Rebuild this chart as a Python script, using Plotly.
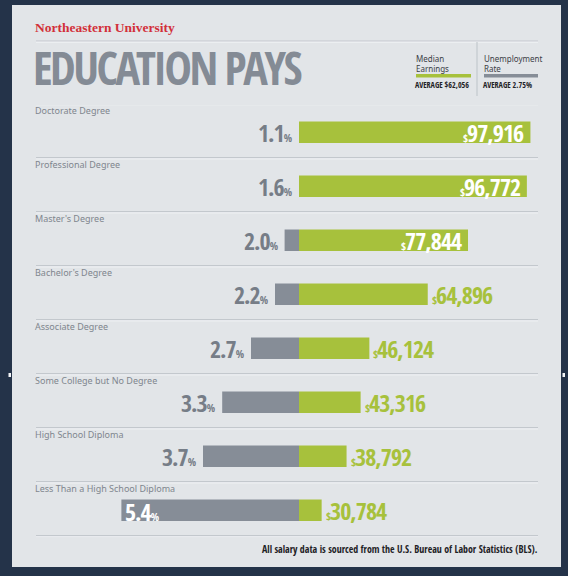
import plotly.graph_objects as go

# ---------------- data ----------------
categories = [
    "Doctorate Degree",
    "Professional Degree",
    "Master's Degree",
    "Bachelor's Degree",
    "Associate Degree",
    "Some College but No Degree",
    "High School Diploma",
    "Less Than a High School Diploma",
]
median_earnings = [97916, 96772, 77844, 64896, 46124, 43316, 38792, 30784]
unemployment_rate = [1.1, 1.6, 2.0, 2.2, 2.7, 3.3, 3.7, 5.4]
avg_earnings_label = "AVERAGE $62,056"
avg_unemp_label = "AVERAGE 2.75%"

# ---------------- style ----------------
W, H = 568, 576
NAVY = "#243349"
PANEL = "#e2e5e8"
GREEN = "#a7c13c"
GREY_BAR = "#868d97"
GREY_TXT = "#767d87"
LINE = "#c3c8cd"
RED = "#d2303a"
COND = "Open Sans Condensed, Roboto Condensed, Liberation Sans"
SANS = "Noto Sans, Liberation Sans, sans-serif"

def px(x):
    return x / W

def py(y):
    return 1 - y / H

CENTER = 299
E_RANGE = [23500, 102600]      # earnings axis (right side)
U_RANGE = [6.054, 1.7]         # unemployment axis (left side, reversed)
ROW_PX = 54

fig = go.Figure()

fig.add_trace(go.Bar(
    y=categories, x=median_earnings, orientation="h", width=0.4,
    marker=dict(color=GREEN, line=dict(width=0)),
    xaxis="x", yaxis="y", hoverinfo="skip",
))
fig.add_trace(go.Bar(
    y=categories, x=unemployment_rate, orientation="h", width=0.4,
    marker=dict(color=GREY_BAR, line=dict(width=0)),
    xaxis="x2", yaxis="y", hoverinfo="skip",
))

shapes = []
annotations = []

# panel
shapes.append(dict(type="rect", xref="paper", yref="paper", x0=px(12), x1=px(561),
                   y0=py(567), y1=py(5), fillcolor=PANEL, line=dict(width=0), layer="below"))
# small white marks on panel edges
for x0, x1 in [(8.5, 11), (562.5, 565)]:
    shapes.append(dict(type="rect", xref="paper", yref="paper", x0=px(x0), x1=px(x1),
                       y0=py(377), y1=py(373), fillcolor="#f4f6f8", line=dict(width=0), layer="below"))

# header lines
shapes.append(dict(type="line", xref="paper", yref="paper", x0=px(36), x1=px(538),
                   y0=py(41), y1=py(41), line=dict(color=LINE, width=1.2)))
shapes.append(dict(type="line", xref="paper", yref="paper", x0=px(36), x1=px(538),
                   y0=py(42.2), y1=py(42.2), line=dict(color="#f1f3f5", width=1)))
shapes.append(dict(type="line", xref="paper", yref="paper", x0=px(477), x1=px(477),
                   y0=py(42), y1=py(96), line=dict(color=LINE, width=1.2)))

# row separators (grey rule with a faint highlight below)
for i in range(len(categories) + 1):
    yl = i - 0.53
    shapes.append(dict(type="line", xref="paper", yref="y", x0=px(36), x1=px(538),
                       y0=yl, y1=yl, line=dict(color=LINE, width=1.2)))
    shapes.append(dict(type="line", xref="paper", yref="y", x0=px(36), x1=px(538),
                       y0=yl + 1.2 / ROW_PX, y1=yl + 1.2 / ROW_PX,
                       line=dict(color="#f1f3f5", width=1)))

# legend swatches
shapes.append(dict(type="rect", xref="paper", yref="paper", x0=px(416), x1=px(471),
                   y0=py(77.5), y1=py(74), fillcolor=GREEN, line=dict(width=0)))
shapes.append(dict(type="rect", xref="paper", yref="paper", x0=px(484), x1=px(538),
                   y0=py(77.5), y1=py(74), fillcolor=GREY_BAR, line=dict(width=0)))

# header text
annotations.append(dict(x=px(33), y=py(27), xref="paper", yref="paper", xanchor="left",
                        yanchor="middle", showarrow=False, text="Northeastern University",
                        font=dict(family="Liberation Serif, serif", size=13.5, color=RED, weight=600)))
annotations.append(dict(x=px(31), y=py(67), xref="paper", yref="paper", xanchor="left",
                        yanchor="middle", showarrow=False,
                        text="<span style='letter-spacing:-2.5px'>EDUCATION PAYS</span>",
                        font=dict(family=COND, size=46, color="#848b95", weight=800)))
annotations.append(dict(x=px(414), y=py(51), xref="paper", yref="paper", xanchor="left",
                        yanchor="top", align="left", showarrow=False, text="Median<br>Earnings",
                        font=dict(family=SANS, size=8, color="#3b4046")))
annotations.append(dict(x=px(482), y=py(51), xref="paper", yref="paper", xanchor="left",
                        yanchor="top", align="left", showarrow=False, text="Unemployment<br>Rate",
                        font=dict(family=SANS, size=8, color="#3b4046")))
annotations.append(dict(x=px(413), y=py(84.5), xref="paper", yref="paper", xanchor="left",
                        yanchor="middle", showarrow=False, text=avg_earnings_label,
                        font=dict(family=COND, size=8, color="#1f2327", weight=800)))
annotations.append(dict(x=px(481), y=py(84.5), xref="paper", yref="paper", xanchor="left",
                        yanchor="middle", showarrow=False, text=avg_unemp_label,
                        font=dict(family=COND, size=8, color="#1f2327", weight=800)))

# footer
annotations.append(dict(x=px(540), y=py(549), xref="paper", yref="paper", xanchor="right",
                        yanchor="middle", showarrow=False,
                        text="All salary data is sourced from the U.S. Bureau of Labor Statistics (BLS).",
                        font=dict(family=COND, size=9.9, color="#1d2125", weight=600)))

# row labels
for c in categories:
    annotations.append(dict(x=px(33), y=c, xref="paper", yref="y", xanchor="left",
                            yanchor="middle", yshift=22, showarrow=False, text=c,
                            font=dict(family=SANS, size=9, color="#80868e")))

BIG = 24
SMALL = 11
INSIDE_MIN = 70000
LS = "letter-spacing:-1px"
# earnings labels
for c, v in zip(categories, median_earnings):
    inside = v >= INSIDE_MIN
    annotations.append(dict(
        x=v, y=c, xref="x", yref="y", xanchor="right" if inside else "left",
        xshift=-4 if inside else 2, yanchor="middle", showarrow=False,
        text=f"<span style='{LS}'><span style='font-size:{SMALL}px'>$</span>{v:,}</span>",
        font=dict(family=COND, size=BIG, color="white" if inside else GREEN, weight=800)))

# unemployment labels
for c, v in zip(categories, unemployment_rate):
    xv = max(v, min(U_RANGE))
    inside = v >= 5
    annotations.append(dict(
        x=xv, y=c, xref="x2", yref="y", xanchor="left" if inside else "right",
        xshift=2 if inside else -4, yshift=-1.5 if inside else 0,
        yanchor="middle", showarrow=False,
        text=f"<span style='{LS}'>{v:.1f}<span style='font-size:{SMALL}px'>%</span></span>",
        font=dict(family=COND, size=BIG, color="white" if inside else GREY_TXT, weight=800)))

fig.update_layout(
    width=W, height=H,
    margin=dict(l=0, r=0, t=0, b=0),
    paper_bgcolor=NAVY, plot_bgcolor="rgba(0,0,0,0)",
    showlegend=False, barmode="overlay",
    xaxis=dict(domain=[px(CENTER), px(545)], range=E_RANGE, visible=False, fixedrange=True),
    xaxis2=dict(domain=[px(90), px(CENTER)], range=U_RANGE, visible=False, fixedrange=True,
                anchor="y"),
    yaxis=dict(domain=[py(537.3), py(105.3)], type="category", categoryarray=categories,
               categoryorder="array", range=[len(categories) - 0.5, -0.5], visible=False,
               fixedrange=True),
    shapes=shapes, annotations=annotations,
)

fig.write_html(
    "out.html",
    config={"displayModeBar": False},
    post_script="document.body.style.margin='0';document.body.style.overflow='hidden';",
)
